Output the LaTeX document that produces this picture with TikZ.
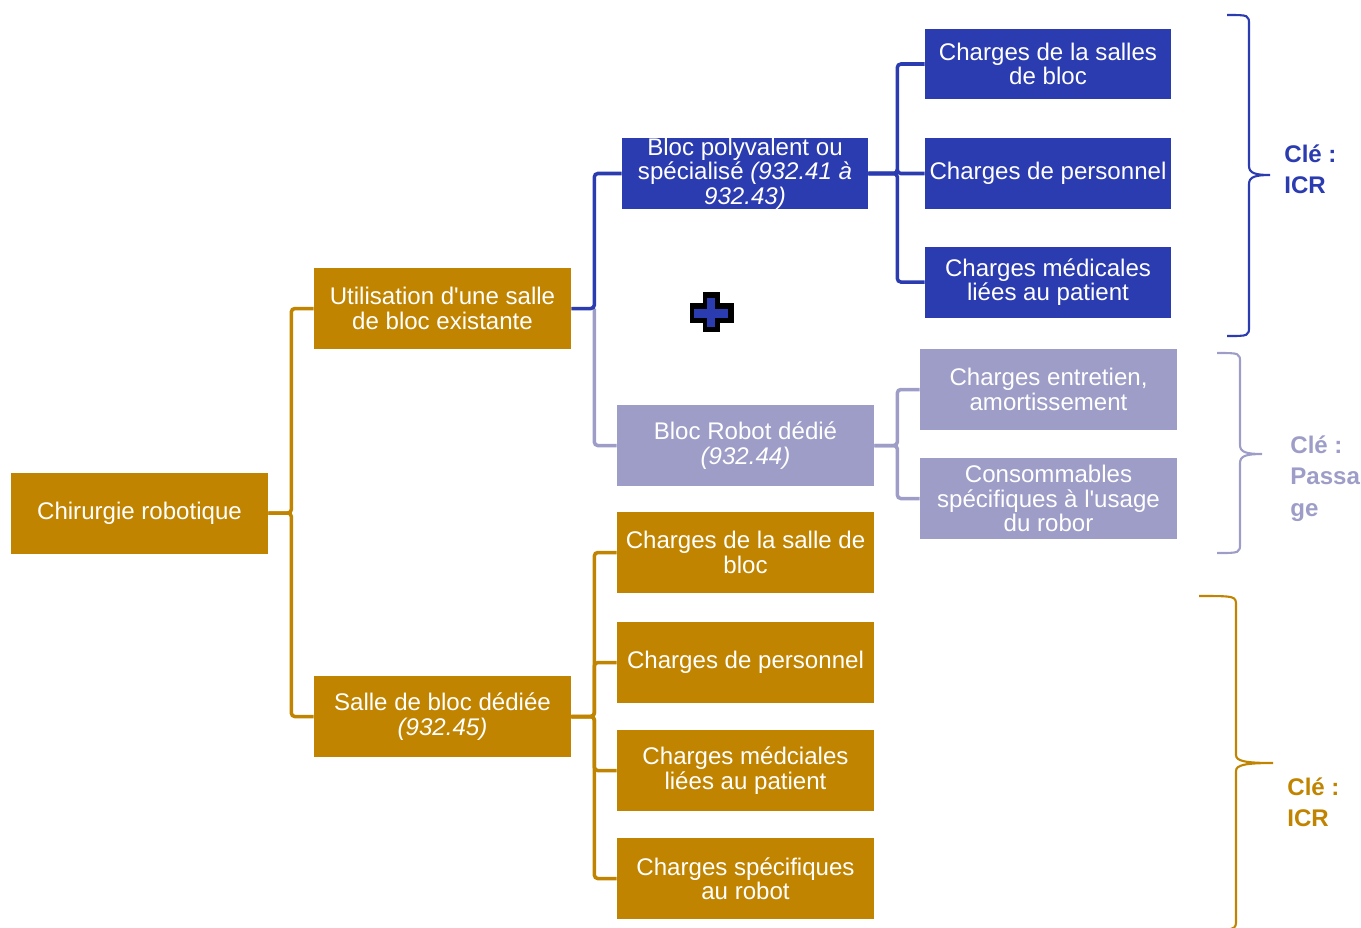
\documentclass[tikz,border=0pt]{standalone}
\usepackage{fontspec}
\setmainfont{Liberation Sans}
\definecolor{gold}{RGB}{192,132,0}
\definecolor{navy}{RGB}{43,59,176}
\definecolor{lilac}{RGB}{157,157,200}
\newcommand{\boxfont}{\fontsize{13.7pt}{13.9pt}\selectfont}
\newcommand{\keyfont}{\fontsize{13.7pt}{18.2pt}\selectfont\bfseries}
\begin{document}
\begin{tikzpicture}[x=0.02cm,y=-0.02cm,
  box/.style={text=white, inner sep=0pt, align=center, font=\boxfont},
  gbox/.style={box, fill=gold, minimum width=5.14cm, minimum height=1.62cm},
  bbox/.style={box, fill=navy, minimum width=4.92cm, minimum height=1.42cm},
  lbox/.style={box, fill=lilac, minimum width=5.14cm, minimum height=1.62cm},
  link/.style={line width=2pt, rounded corners=2pt},
  brace/.style={line width=1.2pt},
  key/.style={anchor=north west, align=left, inner sep=0pt, font=\keyfont}]
\useasboundingbox (0,0) rectangle (1361,927);

% left part
\node[gbox] (root) at (139.5,513) {Chirurgie robotique};
\node[gbox] (util) at (442.5,308.5) {Utilisation d\textquotesingle une salle\\de bloc existante};
\node[gbox] (salle) at (442.5,716.5) {Salle de bloc dédiée\\\textit{(932.45)}};

% middle column
\node[bbox] (bpoly) at (745,173.5) {Bloc polyvalent ou\\spécialisé \textit{(932.41 à}\\\textit{932.43)}};
\node[lbox] (brobot) at (745.5,445.5) {Bloc Robot dédié\\\textit{(932.44)}};
\node[gbox] (g1) at (745.5,552.5) {Charges de la salle de\\bloc};
\node[gbox] (g2) at (745.5,662.5) {Charges de personnel};
\node[gbox] (g3) at (745.5,770.5) {Charges médciales\\liées au patient};
\node[gbox] (g4) at (745.5,878.5) {Charges spécifiques\\au robot};

% right column
\node[bbox] (b1) at (1048,64) {Charges de la salles\\de bloc};
\node[bbox] (b2) at (1048,173.5) {Charges de personnel};
\node[bbox] (b3) at (1048,282) {Charges médicales\\liées au patient};
\node[lbox] (l1) at (1048.5,389.5) {Charges entretien,\\amortissement};
\node[lbox] (l2) at (1048.5,498.5) {Consommables\\spécifiques à l\textquotesingle usage\\du robor};

% links
\draw[link, gold] (root.east) -- +(23,0) |- (util.west);
\draw[link, gold] (root.east) -- +(23,0) |- (salle.west);
\draw[link, lilac] (util.east) ++(23,0) |- (brobot.west);
\draw[link, navy] (util.east) -- +(23,0) |- (bpoly.west);
\foreach \n in {g1,g2,g3,g4}
  \draw[link, gold] (salle.east) -- +(23,0) |- (\n.west);
\foreach \n in {b1,b2,b3}
  \draw[link, navy] (bpoly.east) -- +(29,0) |- (\n.west);
\foreach \n in {l1,l2}
  \draw[link, lilac] (brobot.east) -- +(23,0) |- (\n.west);

% plus sign
\draw[line width=0.34cm, black] (711,292) -- (711,332);
\draw[line width=0.40cm, black] (690,313) -- (734,313);
\draw[line width=0.17cm, navy] (711,298) -- (711,327);
\draw[line width=0.18cm, navy] (694,313.5) -- (728,313.5);

% braces
\draw[brace, navy] (1227,15) .. controls (1249,15) and (1249,15) .. (1249,25)
  -- (1249,166) .. controls (1249,173) and (1255,175) .. (1270,175)
  .. controls (1255,175) and (1249,177) .. (1249,184)
  -- (1249,326) .. controls (1249,336) and (1249,336) .. (1227,336);
\draw[brace, lilac] (1217,353) .. controls (1240,353) and (1240,353) .. (1240,363)
  -- (1240,445) .. controls (1240,452) and (1246,454) .. (1262,454)
  .. controls (1246,454) and (1240,456) .. (1240,463)
  -- (1240,543) .. controls (1240,553) and (1240,553) .. (1217,553);
\draw[brace, gold] (1199,596) .. controls (1236,596) and (1236,596) .. (1236,606)
  -- (1236,755) .. controls (1236,761) and (1245,763) .. (1273,763)
  .. controls (1245,763) and (1236,765) .. (1236,771)
  -- (1236,920) .. controls (1236,930) and (1236,930) .. (1199,930);

% keys
\node[key, navy] (kblue) at (1284,144) {Clé :\\ICR};
\node[key, lilac] (klilac) at (1290,435) {Clé :\\Passa\\ge};
\node[key, gold] (kgold) at (1287,777) {Clé :\\ICR};
\end{tikzpicture}
\end{document}
